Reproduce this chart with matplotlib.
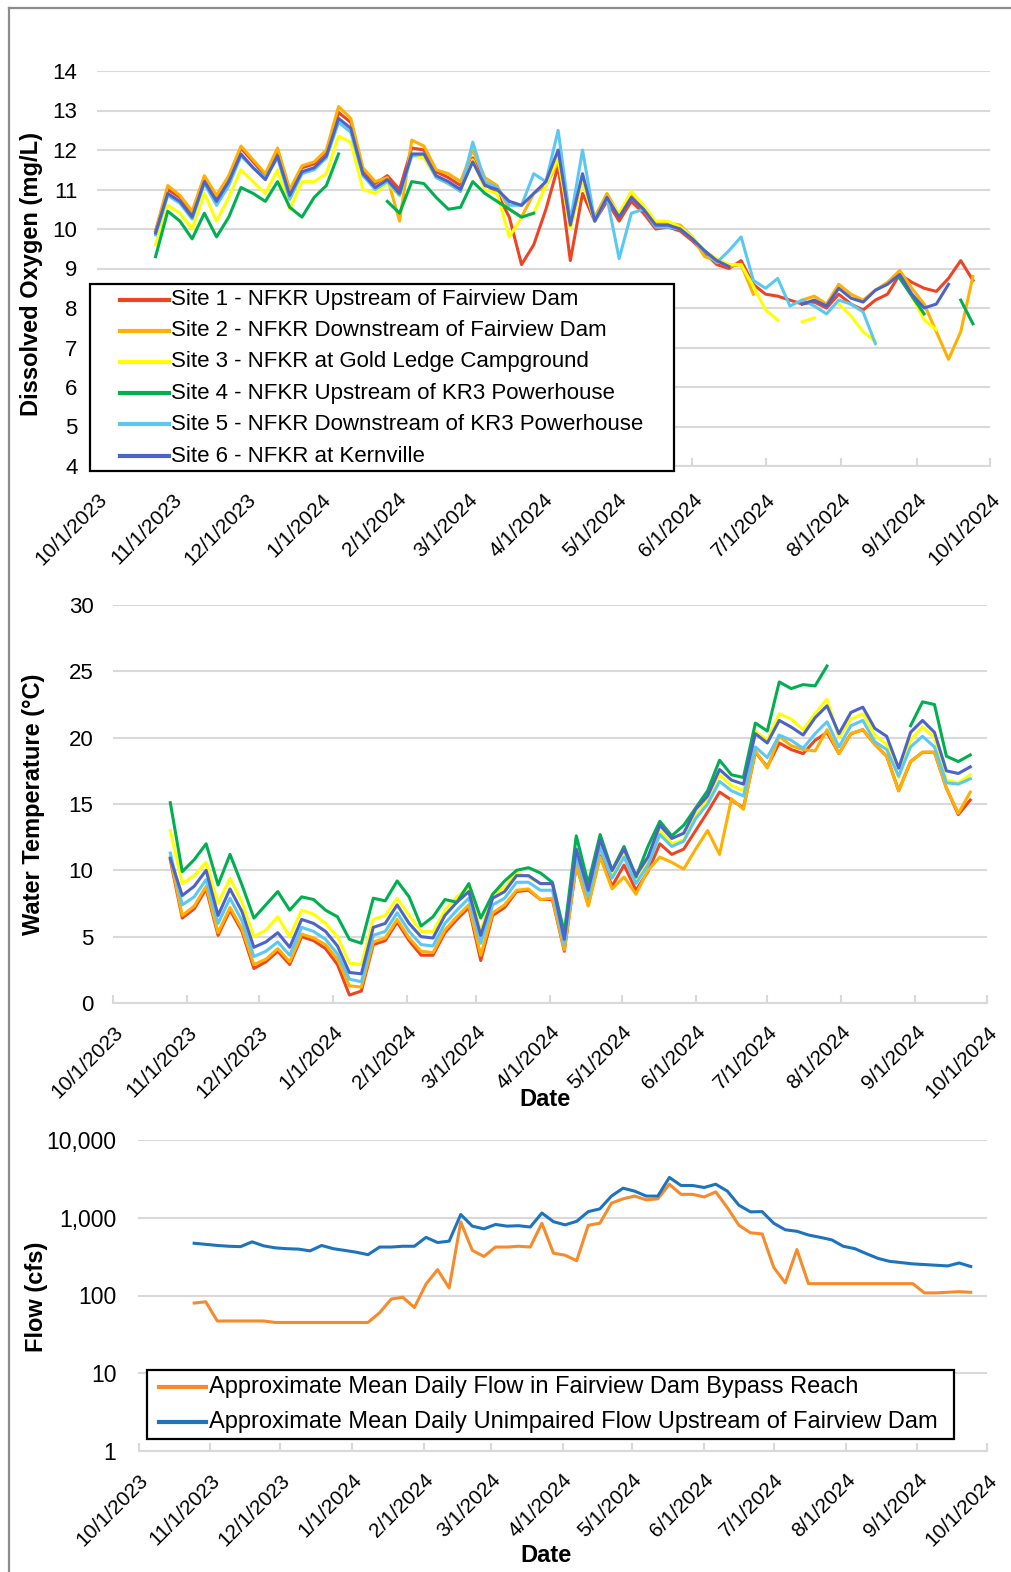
import numpy as np
import pandas as pd
import matplotlib
matplotlib.use("Agg")
import matplotlib.pyplot as plt
from matplotlib.lines import Line2D
from matplotlib.patches import Rectangle

plt.rcParams["font.family"] = ["Liberation Sans", "DejaVu Sans"]

nan = np.nan
W, H = 1012, 1572
GRID = "#D9D9D9"

# ---- data (5-day sampling) ----
dates = pd.date_range("2023-10-25", periods=68, freq="5D")

site_labels = [
    "Site 1 - NFKR Upstream of Fairview Dam",
    "Site 2 - NFKR Downstream of Fairview Dam",
    "Site 3 - NFKR at Gold Ledge Campground",
    "Site 4 - NFKR Upstream of KR3 Powerhouse",
    "Site 5 - NFKR Downstream of KR3 Powerhouse",
    "Site 6 - NFKR at Kernville",
]
site_colors = ["#EE4424", "#FFB000", "#FFFF00", "#00B050", "#5BC8F2", "#4E63C7"]

do_site1 = [9.95, 11.0, 10.8, 10.4, 11.3, 10.8, 11.3, 12.05, 11.7, 11.35,
            12.0, 10.95, 11.55, 11.65, 11.95, 12.95, 12.7, 11.5, 11.15, 11.35,
            11.0, 12.05, 12.0, 11.45, 11.3, 11.1, 11.8, 11.15, 10.9, 10.3,
            9.1, 9.6, 10.5, 11.6, 9.2, 10.9, 10.2, 10.7, 10.2, 10.7,
            10.4, 10.0, 10.05, 9.95, 9.7, 9.4, 9.1, 9.0, 9.2, 8.6,
            8.35, 8.3, 8.2, 8.1, 8.15, 8.0, 8.35, 8.1, 7.95, 8.2,
            8.35, 8.85, 8.65, 8.5, 8.42, 8.75, 9.2, 8.7]
do_site2 = [9.95, 11.1, 10.85, 10.45, 11.35, 10.85, 11.35, 12.1, 11.75, 11.4,
            12.05, 11.0, 11.6, 11.7, 12.0, 13.1, 12.8, 11.55, 11.2, 11.3,
            10.2, 12.25, 12.1, 11.5, 11.4, 11.2, 12.0, 11.3, 11.1, 10.5,
            10.3, 10.9, 11.1, 11.7, 10.2, 11.2, 10.3, 10.9, 10.35, 10.9,
            10.55, 10.15, 10.15, 10.1, 9.8, 9.3, 9.2, 9.05, 9.1, 8.35,
            nan, nan, nan, 8.2, 8.3, 8.1, 8.6, 8.35, 8.2, 8.45,
            8.65, 8.95, 8.5, 8.1, 7.4, 6.7, 7.4, 8.8]
do_site3 = [9.6, 10.6, 10.4, 10.0, 10.9, 10.2, 10.8, 11.5, 11.2, 10.9,
            11.5, 10.5, 11.2, 11.2, 11.4, 12.35, 12.2, 11.0, 10.9, 11.15,
            10.85, 11.85, 11.8, 11.3, 11.15, 10.95, 11.75, 11.0, 10.9, 9.8,
            10.3, 10.4, 11.1, 11.8, 10.0, 11.2, 10.2, 10.8, 10.4, 10.95,
            10.6, 10.2, 10.2, 10.05, 9.8, 9.45, 9.25, 9.1, 9.1, 8.55,
            7.95, 7.7, nan, 7.65, 7.75, nan, 8.1, 7.8, 7.4, 7.15,
            nan, 8.85, 8.3, 7.7, 7.45, nan, nan, nan]
do_site4 = [9.3, 10.45, 10.2, 9.75, 10.4, 9.8, 10.3, 11.05, 10.9, 10.7,
            11.2, 10.55, 10.3, 10.8, 11.1, 11.9, nan, nan, nan, 10.7,
            10.4, 11.2, 11.15, 10.8, 10.5, 10.55, 11.2, 10.9, 10.7, 10.5,
            10.3, 10.4, nan, nan, nan, nan, nan, nan, nan, nan,
            nan, nan, nan, nan, nan, nan, nan, nan, nan, nan,
            nan, nan, nan, nan, nan, nan, nan, nan, nan, nan,
            nan, 8.75, 8.3, 7.85, nan, nan, 8.2, 7.6]
do_site5 = [9.85, 10.85, 10.65, 10.25, 11.15, 10.6, 11.1, 11.85, 11.55, 11.3,
            11.8, 10.75, 11.4, 11.5, 11.8, 12.7, 12.45, 11.35, 11.0, 11.2,
            10.85, 11.85, 11.9, 11.3, 11.15, 10.95, 12.2, 11.2, 11.05, 10.6,
            10.6, 11.4, 11.2, 12.5, 10.2, 12.0, 10.2, 10.8, 9.25, 10.4,
            10.5, 10.05, 10.05, 10.0, 9.75, 9.45, 9.15, 9.45, 9.8, 8.7,
            8.5, 8.75, 8.05, 8.2, 8.05, 7.85, 8.2, 8.1, 7.9, 7.1,
            nan, nan, nan, nan, nan, nan, nan, nan]
do_site6 = [9.9, 10.9, 10.7, 10.3, 11.2, 10.7, 11.2, 11.9, 11.55, 11.25,
            11.85, 10.85, 11.45, 11.55, 11.85, 12.8, 12.55, 11.4, 11.05, 11.25,
            10.9, 11.9, 11.9, 11.35, 11.2, 11.0, 11.7, 11.1, 11.0, 10.7,
            10.6, 10.9, 11.2, 12.0, 10.1, 11.4, 10.2, 10.8, 10.3, 10.8,
            10.5, 10.1, 10.1, 10.0, 9.75, 9.45, 9.2, 9.05, nan, nan,
            nan, nan, nan, 8.1, 8.2, 8.05, 8.5, 8.25, 8.15, 8.45,
            8.6, 8.85, 8.35, 8.0, 8.1, 8.6, nan, nan]

temp_site1 = [10.8, 6.4, 7.1, 8.6, 5.1, 7.0, 5.4, 2.6, 3.1, 3.9,
              2.9, 5.0, 4.7, 4.1, 2.9, 0.6, 0.9, 4.4, 4.7, 6.1,
              4.7, 3.6, 3.6, 5.3, 6.3, 7.2, 3.2, 6.6, 7.2, 8.4,
              8.5, 7.8, 7.8, 3.9, 10.4, 7.4, 11.1, 8.8, 10.4, 8.5,
              9.9, 12.0, 11.2, 11.6, 13.0, 14.4, 15.9, 15.3, 14.7, 18.9,
              17.8, 19.6, 19.1, 18.8, 19.8, 20.4, 18.8, 20.3, 20.6, 19.5,
              18.6, 16.0, 18.2, 18.9, 18.9, 16.2, 14.2, 15.3]
temp_site2 = [11.0, 6.6, 7.3, 8.8, 5.3, 7.2, 5.6, 2.9, 3.3, 4.1,
              3.1, 5.2, 4.9, 4.4, 3.3, 1.3, 1.2, 4.6, 4.9, 6.3,
              4.9, 3.9, 3.8, 5.5, 6.5, 7.4, 3.6, 6.8, 7.4, 8.5,
              8.6, 7.8, 7.9, 4.0, 10.4, 7.3, 11.0, 8.6, 9.5, 8.2,
              10.0, 11.0, 10.6, 10.1, 11.6, 13.0, 11.2, 15.4, 14.6, 19.0,
              17.7, 20.1, 19.4, 19.1, 19.0, 20.6, 18.8, 20.3, 20.6, 19.5,
              18.6, 16.0, 18.2, 18.9, 18.9, 16.2, 14.3, 15.9]
temp_site3 = [13.0, 9.0, 9.6, 10.6, 7.5, 9.4, 7.6, 5.0, 5.5, 6.5,
              5.0, 7.0, 6.7, 6.0, 5.0, 3.0, 2.9, 6.3, 6.6, 7.9,
              6.6, 5.4, 5.4, 7.0, 8.0, 8.7, 5.4, 8.2, 8.7, 9.8,
              9.5, 9.0, 9.0, 4.6, 11.5, 8.4, 12.0, 9.6, 11.2, 9.4,
              10.7, 13.0, 12.0, 12.3, 14.2, 15.3, 17.2, 16.4, 16.0, 20.5,
              19.8, 21.8, 21.4, 20.6, 21.8, 22.9, 20.0, 21.4, 21.8, 20.2,
              19.5, 17.0, 19.8, 20.8, 20.0, 16.8, 16.6, 17.2]
temp_site4 = [15.1, 9.9, 10.8, 12.0, 8.9, 11.2, 8.9, 6.4, 7.4, 8.4,
              7.0, 8.0, 7.8, 7.0, 6.5, 4.8, 4.5, 7.9, 7.7, 9.2,
              8.0, 5.8, 6.5, 7.8, 7.6, 9.0, 6.4, 8.2, 9.2, 10.0,
              10.2, 9.8, 9.1, 5.3, 12.6, 9.0, 12.7, 10.0, 11.8, 9.5,
              11.8, 13.7, 12.6, 13.4, 14.7, 16.0, 18.3, 17.2, 17.0, 21.1,
              20.5, 24.2, 23.7, 24.0, 23.9, 25.4, nan, nan, nan, nan,
              nan, nan, 20.9, 22.7, 22.5, 18.6, 18.2, 18.7]
temp_site5 = [11.3, 7.4, 8.0, 9.3, 6.0, 7.9, 6.2, 3.5, 3.9, 4.6,
              3.6, 5.7, 5.4, 4.8, 3.7, 1.8, 1.6, 5.1, 5.4, 6.8,
              5.4, 4.4, 4.3, 6.0, 7.0, 7.9, 4.5, 7.4, 7.9, 9.1,
              9.1, 8.5, 8.5, 4.4, 11.1, 8.0, 11.7, 9.4, 11.0, 9.0,
              10.4, 12.7, 11.8, 12.2, 13.9, 15.0, 16.7, 16.0, 15.6, 19.3,
              18.5, 20.2, 19.8, 19.2, 20.3, 21.2, 19.3, 20.9, 21.3, 19.7,
              19.1, 17.1, 19.3, 20.1, 19.3, 16.6, 16.5, 16.9]
temp_site6 = [10.9, 8.1, 8.8, 10.0, 6.6, 8.6, 6.9, 4.2, 4.6, 5.3,
              4.2, 6.3, 6.0, 5.4, 4.3, 2.3, 2.2, 5.7, 6.0, 7.4,
              6.0, 5.0, 4.9, 6.6, 7.6, 8.4, 5.1, 7.9, 8.4, 9.6,
              9.6, 9.0, 9.0, 4.8, 11.6, 8.5, 12.3, 10.0, 11.6, 9.6,
              11.0, 13.4, 12.4, 12.8, 14.6, 15.6, 17.6, 16.8, 16.5, 20.3,
              19.6, 21.3, 20.8, 20.2, 21.5, 22.4, 20.3, 21.9, 22.3, 20.7,
              20.1, 17.7, 20.4, 21.3, 20.4, 17.5, 17.3, 17.8]

flow_labels = ["Approximate Mean Daily Flow in Fairview Dam Bypass Reach",
               "Approximate Mean Daily Unimpaired Flow Upstream of Fairview Dam"]
flow_colors = ["#F68B2C", "#1E73BE"]
flow_bypass = [80, 83, 47, 47, 47, 47, 47, 45, 45, 45,
               45, 45, 45, 45, 45, 45, 60, 90, 95, 70,
               140, 215, 125, 880, 380, 318, 420, 420, 430, 420,
               850, 350, 330, 280, 800, 850, 1540, 1750, 1900, 1700,
               1750, 2700, 2000, 2000, 1850, 2150, 1350, 800, 640, 620,
               230, 145, 390, 142, 142, 142, 142, 142, 142, 142,
               142, 142, 142, 108, 108, 110, 112, 110]
flow_unimpaired = [470, 455, 440, 430, 425, 490, 435, 410, 400, 395,
                   375, 440, 400, 380, 360, 335, 420, 420, 430, 430,
                   560, 480, 500, 1100, 780, 720, 820, 780, 790, 760,
                   1150, 890, 810, 900, 1200, 1300, 1900, 2400, 2200, 1900,
                   1900, 3300, 2600, 2600, 2450, 2700, 2200, 1450, 1190, 1200,
                   850, 700, 670, 600, 560, 520, 430, 400, 345, 300,
                   275, 265, 255, 250, 245, 240, 262, 236]


def fx(px):
    return px / W


def fy(py):
    return 1 - py / H


def style_axis(ax, xtick_pad, ytick_pad, ytick_size):
    months = pd.date_range("2023-10-01", "2024-10-01", freq="MS")
    ax.set_xlim(months[0], months[-1])
    ax.set_xticks(months.to_pydatetime())
    ax.set_xticklabels([f"{m.month}/{m.day}/{m.year}" for m in months],
                       rotation=45, ha="right", va="top",
                       rotation_mode="anchor", fontsize=15)
    for s in ("top", "right", "left"):
        ax.spines[s].set_visible(False)
    ax.spines["bottom"].set_color(GRID)
    ax.spines["bottom"].set_linewidth(1.5)
    ax.grid(axis="y", color=GRID, linewidth=1.5)
    ax.grid(axis="x", visible=False)
    ax.set_axisbelow(True)
    ax.tick_params(axis="x", direction="in", length=6, width=1.5,
                   color=GRID, pad=xtick_pad)
    ax.tick_params(axis="y", length=0, pad=ytick_pad, labelsize=ytick_size)
    ax.tick_params(axis="y", which="minor", length=0)


def draw_legend(fig, box, rows_y, x_line, x_text, labels, colors, size):
    x0, y0, x1, y1 = box
    fig.add_artist(Rectangle((fx(x0), fy(y1)), fx(x1) - fx(x0), fy(y0) - fy(y1),
                             transform=fig.transFigure, facecolor="white",
                             edgecolor="black", linewidth=1.6, zorder=5))
    for y, lab, c in zip(rows_y, labels, colors):
        fig.add_artist(Line2D([fx(x_line[0]), fx(x_line[1])], [fy(y), fy(y)],
                              transform=fig.transFigure, color=c, linewidth=3,
                              zorder=6))
        fig.text(fx(x_text), fy(y), lab, fontsize=size, va="center",
                 ha="left", zorder=6)


fig = plt.figure(figsize=(W / 100, H / 100), dpi=100)

# ---- panel 1: dissolved oxygen ----
ax1 = fig.add_axes([fx(97), fy(466), (990 - 97) / W, (466 - 71) / H])
for vals, c in zip([do_site1, do_site2, do_site3, do_site4, do_site5, do_site6],
                   site_colors):
    ax1.plot(dates, vals, color=c, linewidth=2.2)
ax1.set_ylim(4, 14)
ax1.set_yticks(range(4, 15))
style_axis(ax1, xtick_pad=17, ytick_pad=14, ytick_size=16)
fig.text(fx(32), fy(274), "Dissolved Oxygen (mg/L)", rotation=90, fontsize=17,
         fontweight="bold", ha="center", va="center")
draw_legend(fig, (90, 284, 674, 471), [300, 331, 362, 393, 424, 456],
            (120, 169), 171, site_labels, site_colors, 16)

# ---- panel 2: water temperature ----
ax2 = fig.add_axes([fx(113), fy(1003), (987 - 113) / W, (1003 - 605) / H])
for vals, c in zip([temp_site1, temp_site2, temp_site3, temp_site4, temp_site5,
                    temp_site6], site_colors):
    ax2.plot(dates, vals, color=c, linewidth=2.2)
ax2.set_ylim(0, 30)
ax2.set_yticks(range(0, 31, 5))
style_axis(ax2, xtick_pad=14, ytick_pad=14, ytick_size=16)
fig.text(fx(34), fy(804), "Water Temperature (\u00b0C)", rotation=90, fontsize=17,
         fontweight="bold", ha="center", va="center")
fig.text(fx(545), fy(1100), "Date", fontsize=17, fontweight="bold",
         ha="center", va="center")

# ---- panel 3: flow ----
ax3 = fig.add_axes([fx(138.5), fy(1451), (987 - 138.5) / W, (1451 - 1140) / H])
for vals, c in zip([flow_bypass, flow_unimpaired], flow_colors):
    ax3.plot(dates, vals, color=c, linewidth=2.2)
ax3.set_yscale("log")
ax3.set_ylim(1, 10000)
ax3.set_yticks([1, 10, 100, 1000, 10000])
ax3.set_yticklabels(["1", "10", "100", "1,000", "10,000"])
ax3.minorticks_off()
style_axis(ax3, xtick_pad=14, ytick_pad=16, ytick_size=16.5)
fig.text(fx(36), fy(1297), "Flow (cfs)", rotation=90, fontsize=17,
         fontweight="bold", ha="center", va="center")
fig.text(fx(546), fy(1556), "Date", fontsize=17, fontweight="bold",
         ha="center", va="center")
draw_legend(fig, (147, 1370, 954, 1439), [1387, 1422], (159, 206), 209,
            flow_labels, flow_colors, 17)

# outer frame (only top and left edges fall inside the picture)
frame = "#8C8C8C"
fig.add_artist(Line2D([fx(9), fx(9)], [0, fy(7.5)], transform=fig.transFigure,
                      color=frame, linewidth=1.6))
fig.add_artist(Line2D([fx(9), 1], [fy(7.5), fy(7.5)], transform=fig.transFigure,
                      color=frame, linewidth=1.6))

fig.savefig("out.png", dpi=100)
